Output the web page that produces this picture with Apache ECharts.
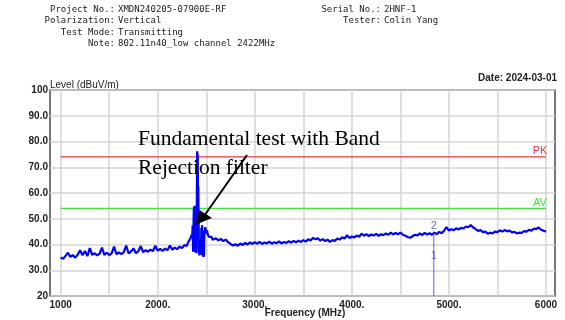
<!DOCTYPE html>
<html>
<head>
<meta charset="utf-8">
<script src="https://cdn.jsdelivr.net/npm/echarts@6/dist/echarts.min.js"></script>
<style>
  html, body { margin: 0; padding: 0; background: #fff; }
  #chart { width: 565px; height: 320px; }
</style>
</head>
<body>
<div id="chart"></div>
<script>
// Radiated emission scan, 1 GHz - 6 GHz, vertical polarization

// Sweep below the fundamental: 1000 MHz onward, 25 MHz per point (dBuV/m)
const lowBandStart = 1000;
const sweepStep = 25;
const lowBandLevel = [
  35.0, 34.4, 35.6, 36.8, 35.2, 35.9, 34.9, 36.0,
  37.8, 35.8, 37.5, 35.5, 38.6, 36.0, 36.6, 35.8,
  36.4, 38.8, 36.0, 36.8, 35.9, 36.6, 39.2, 36.2,
  36.9, 36.3, 37.0, 39.6, 36.5, 37.3, 38.5, 36.6,
  37.4, 39.4, 37.0, 37.8, 37.2, 38.0, 37.4, 39.5,
  37.6, 38.3, 37.5, 38.4, 37.8, 39.6, 38.0, 38.8,
  38.2, 39.2, 38.6, 39.8
];

// Fundamental region around 2422 MHz (band rejection filter in line)
const fundFreq = [
  2300, 2310, 2320, 2330, 2340, 2348, 2355, 2360, 2364, 2368,
  2372, 2376, 2380, 2384, 2388, 2392, 2396, 2400, 2403, 2406,
  2409, 2412, 2415, 2418, 2421, 2425, 2429, 2433, 2437, 2441,
  2445, 2449, 2453, 2457, 2461, 2465, 2469, 2473, 2477, 2481,
  2485, 2489, 2493, 2497, 2502, 2508, 2514, 2520, 2528, 2536,
  2545, 2555, 2565, 2575, 2585
];
const fundLevel = [
  39.4, 40.6, 39.9, 41.2, 42.6, 43.8, 42.9, 47.5, 37.2, 36.8,
  54.5, 38.0, 55.0, 37.0, 52.0, 54.2, 40.0, 36.6, 60.0, 76.2,
  66.0, 75.2, 58.0, 62.4, 50.0, 38.0, 35.8, 36.5, 35.6, 38.5,
  36.0, 46.5, 36.2, 47.5, 38.0, 35.4, 36.2, 35.2, 36.5, 45.5,
  44.5, 46.8, 45.2, 46.0, 44.2, 45.5, 44.0, 44.6, 43.0, 43.6,
  42.5, 43.0, 41.8, 42.4, 41.2
];

// Sweep above the fundamental: 2600 MHz to 6000 MHz, 25 MHz per point
const highBandStart = 2600;
const highBandLevel = [
  42.4, 41.6, 42.2, 41.3, 41.9, 40.9, 40.2, 39.6,
  40.1, 39.5, 40.4, 39.8, 40.6, 40.0, 40.8, 40.2,
  40.9, 40.3, 41.0, 40.2, 40.8, 40.4, 41.1, 40.3,
  40.9, 40.5, 41.2, 40.4, 41.0, 40.6, 41.3, 40.7,
  41.4, 40.8, 41.5, 41.0, 41.7, 41.1, 42.0, 41.6,
  42.6, 42.0, 42.4, 41.5, 42.1, 41.3, 41.9, 41.0,
  41.7, 41.4, 42.3, 41.9, 42.8, 42.3, 43.6, 42.5,
  43.1, 42.7, 43.5, 43.0, 44.2, 43.4, 44.0, 43.3,
  43.9, 43.5, 44.1, 43.4, 44.0, 43.6, 44.3, 43.8,
  44.6, 43.9, 44.5, 44.0, 44.6, 43.8, 43.4, 42.9,
  42.6, 43.2, 43.8, 43.5, 44.3, 43.7, 44.5, 43.9,
  44.4, 43.8, 44.6, 44.0, 44.9, 44.4, 45.3, 46.8,
  45.4, 45.9, 45.6, 46.3, 45.8, 46.5, 46.2, 47.0,
  46.7, 47.6, 46.6, 46.0, 45.3, 45.6, 44.8, 45.0,
  44.2, 44.6, 44.3, 45.0, 44.8, 45.5, 45.0, 45.6,
  45.1, 45.4, 44.7, 44.9, 44.3, 44.6, 44.5, 45.2,
  45.0, 45.7, 45.4, 46.2, 46.0, 46.6, 45.7, 45.3,
  45.1
];

// Limits (dBuV/m)
const limitNames = ['PK', 'AV'];
const limitLevels = [74, 54];
const limitColors = ['#e8383d', '#3ce63c'];
const limitSpan = [1000, 6000];

// Markers at the 2nd harmonic (4844 MHz)
const markerNames = ['1', '2'];
const markerFreq = [4844, 4844];
const markerLevel = [32.8, 44.3];

// Axis ticks and labels
const xTickValues = [1000, 2000, 3000, 4000, 5000, 6000];
const xTickLabels = ['1000', '2000.', '3000.', '4000.', '5000.', '6000'];
const xGridValues = [1000, 1500, 2000, 2500, 3000, 3500, 4000, 4500, 5000, 5500, 6000];
const yTickValues = [20, 30, 40, 50, 60, 70, 80, 90, 100];
const yTickLabels = ['20', '30.0', '40.0', '50.0', '60.0', '70.0', '80.0', '90.0', '100'];

// Header information
const headerLeft = [
  ['Project No.:', 'XMDN240205-07900E-RF'],
  ['Polarization:', 'Vertical'],
  ['Test Mode:', 'Transmitting'],
  ['Note:', '802.11n40_low channel 2422MHz']
];
const headerRight = [
  ['Serial No.:', '2HNF-1'],
  ['Tester:', 'Colin Yang']
];
const dateText = 'Date: 2024-03-01';
const yAxisTitle = 'Level (dBuV/m)';
const xAxisTitle = 'Frequency (MHz)';
const noteLines = ['Fundamental test with Band', 'Rejection filter'];

// Build the trace
const trace = [];
lowBandLevel.forEach((v, i) => trace.push([lowBandStart + i * sweepStep, v]));
fundFreq.forEach((f, i) => trace.push([f, fundLevel[i]]));
highBandLevel.forEach((v, i) => trace.push([highBandStart + i * sweepStep, v]));

const chart = echarts.init(document.getElementById('chart'), null, { renderer: 'canvas' });

const mono = '"DejaVu Sans Mono", "Liberation Mono", monospace';
const sans = '"Liberation Sans", Arial, sans-serif';
const serif = '"Liberation Serif", "Times New Roman", serif';

const graphics = [];
headerLeft.forEach((row, i) => {
  graphics.push({ type: 'text', x: 115, y: 9.5 + i * 11.5,
    style: { text: row[0], font: '9px ' + mono, fill: '#1a1a1a', align: 'right', verticalAlign: 'middle' } });
  graphics.push({ type: 'text', x: 118, y: 9.5 + i * 11.5,
    style: { text: row[1], font: '9px ' + mono, fill: '#1a1a1a', align: 'left', verticalAlign: 'middle' } });
});
headerRight.forEach((row, i) => {
  graphics.push({ type: 'text', x: 381, y: 9.5 + i * 11.5,
    style: { text: row[0], font: '9px ' + mono, fill: '#1a1a1a', align: 'right', verticalAlign: 'middle' } });
  graphics.push({ type: 'text', x: 384, y: 9.5 + i * 11.5,
    style: { text: row[1], font: '9px ' + mono, fill: '#1a1a1a', align: 'left', verticalAlign: 'middle' } });
});
graphics.push({ type: 'text', x: 50, y: 85,
  style: { text: yAxisTitle, font: '10px ' + sans, fill: '#222', align: 'left', verticalAlign: 'middle' } });
graphics.push({ type: 'text', x: 557, y: 78,
  style: { text: dateText, font: 'bold 10px ' + sans, fill: '#222', align: 'right', verticalAlign: 'middle' } });
graphics.push({ type: 'text', x: 305, y: 313,
  style: { text: xAxisTitle, font: 'bold 10px ' + sans, fill: '#222', align: 'center', verticalAlign: 'middle' } });
noteLines.forEach((t, i) => {
  graphics.push({ type: 'text', x: 138, y: 139 + i * 29, z: 20,
    style: { text: t, font: '21.5px ' + serif, fill: '#000', align: 'left', verticalAlign: 'middle' } });
});
// Callout arrow pointing at the fundamental
graphics.push({ type: 'line', z: 20,
  shape: { x1: 247, y1: 155, x2: 205.5, y2: 214 },
  style: { stroke: '#000', lineWidth: 2 } });
graphics.push({ type: 'polygon', z: 20,
  shape: { points: [[195, 225], [199.5, 210], [212, 218]] },
  style: { fill: '#000' } });

const limitSeries = limitNames.map((name, i) => ({
  name: name,
  type: 'line',
  data: [[limitSpan[0], limitLevels[i]],
         { value: [limitSpan[1], limitLevels[i]],
           label: { show: true, formatter: name, position: 'top', offset: [-6, 5],
                    color: limitColors[i], fontSize: 11, fontFamily: sans } }],
  showSymbol: true,
  symbol: 'circle',
  symbolSize: 0,
  lineStyle: { color: limitColors[i], width: 1.2 },
  silent: true,
  z: 3
}));

chart.setOption({
  animation: false,
  backgroundColor: '#fff',
  grid: { left: 50, right: 10, top: 90, bottom: 24, show: true,
          borderColor: '#4a4a4a', borderWidth: 1.5, backgroundColor: 'transparent' },
  xAxis: {
    type: 'value', min: 890, max: 6093,
    axisLine: { show: false },
    axisTick: { show: false, customValues: xGridValues },
    splitLine: { show: true, lineStyle: { color: '#d4d4d4', width: 1.5 } },
    axisLabel: {
      customValues: xTickValues,
      margin: 4,
      color: '#222', fontSize: 10, fontWeight: 'bold', fontFamily: sans,
      formatter: v => xTickLabels[xTickValues.indexOf(v)]
    }
  },
  yAxis: {
    type: 'value', min: 20, max: 100, interval: 10,
    axisLine: { show: false },
    axisTick: { show: false },
    splitLine: { show: true, lineStyle: { color: '#d4d4d4', width: 1.5 } },
    axisLabel: {
      margin: 2,
      color: '#222', fontSize: 10, fontWeight: 'bold', fontFamily: sans,
      formatter: v => yTickLabels[yTickValues.indexOf(v)]
    }
  },
  graphic: graphics,
  series: [
    ...limitSeries,
    {
      name: 'Level',
      type: 'line',
      data: trace,
      showSymbol: false,
      symbol: 'none',
      lineStyle: { color: '#0000ff', width: 2.2 },
      z: 4
    },
    {
      name: 'Marker line',
      type: 'line',
      data: [[markerFreq[0], 20], [markerFreq[1], markerLevel[1]]],
      showSymbol: false,
      symbol: 'none',
      lineStyle: { color: '#5b5bff', width: 1 },
      z: 5
    },
    {
      name: 'Markers',
      type: 'scatter',
      symbolSize: 0,
      data: markerNames.map((n, i) => [markerFreq[i], markerLevel[i], n]),
      label: { show: true, position: 'top', distance: 2,
               formatter: p => p.value[2],
               color: '#4646c8', fontSize: 11, fontFamily: sans },
      z: 6
    }
  ]
});
</script>
</body>
</html>
